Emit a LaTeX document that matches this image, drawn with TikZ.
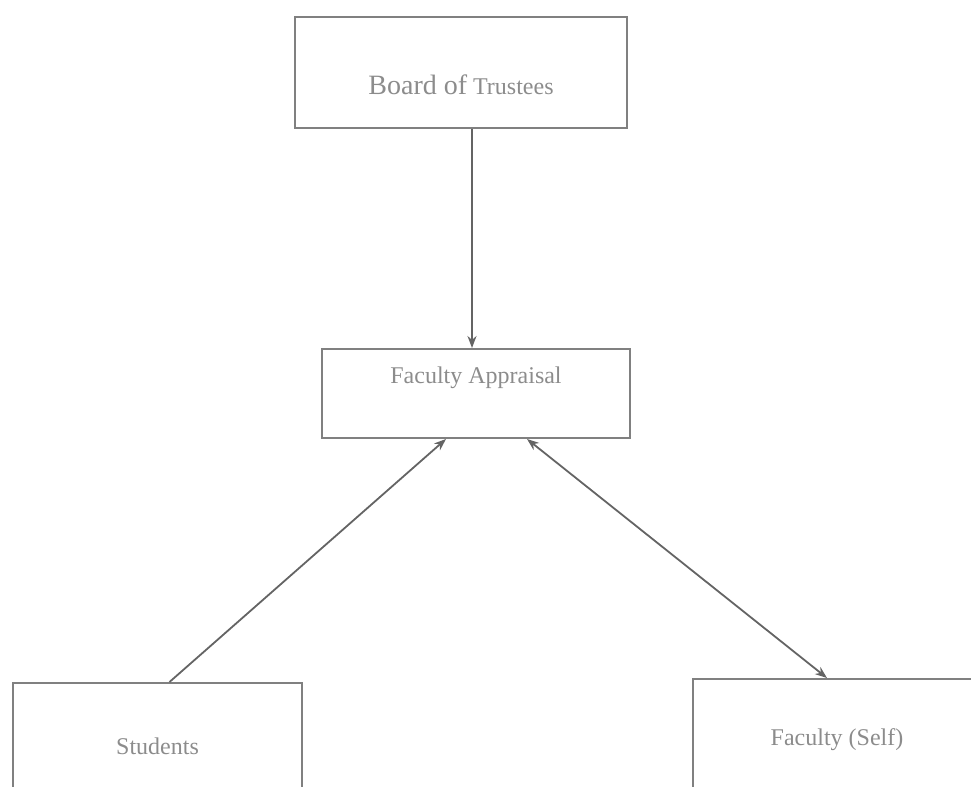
\documentclass[tikz,border=0pt]{standalone}
\usepackage{fontspec}
\setmainfont{Liberation Serif}
\usepackage{tikz}
\usetikzlibrary{arrows.meta,positioning}
\usepackage{xcolor}
\definecolor{boxgray} {RGB}{128,128,128}
\definecolor{textgray}{RGB}{140,140,140}
\definecolor{arrgray} {RGB}{100,100,100}

\begin{document}
\begin{tikzpicture}[
    x=0.5pt, y=-0.5pt,
    unit/.style={draw=boxgray, line width=1pt, rectangle, align=center, text=textgray, font=\fontsize{12}{14}\selectfont},
    arrow/.style={draw=arrgray, line width=0.9pt, -{Stealth[length=6pt,width=4.5pt]}},
    twoway/.style={arrow, {Stealth[length=6pt,width=4.5pt]}-{Stealth[length=6pt,width=4.5pt]}}
]
    \clip (0,0) rectangle (971,787);

    % Top of the chart
    \node[unit, minimum width=166pt, minimum height=55.5pt, text height=21.7pt, text depth=0pt] (trustees) at (461,72.5)
        {{\fontsize{14}{16}\selectfont Board of} Trustees};
    \node[unit, minimum width=154pt, minimum height=44.5pt, text height=8pt, text depth=18.5pt] (appraisal) at (476,393.5)
        {Faculty Appraisal};

    % Sources of appraisal
    \node[unit, minimum width=144.5pt, minimum height=63pt] (students) at (157.5,746) {Students};
    \node[unit, minimum width=144pt, minimum height=61pt] (self) at (837,740) {Faculty (Self)};

    % Connections
    \draw[arrow] ([xshift=-2pt]appraisal.north |- trustees.south) -- ([xshift=-2pt]appraisal.north);
    \draw[arrow] ([xshift=6pt]students.north) -- ([xshift=-15pt]appraisal.south);
    \draw[twoway] ([xshift=25.5pt]appraisal.south) -- ([xshift=-5pt]self.north);
\end{tikzpicture}
\end{document}
